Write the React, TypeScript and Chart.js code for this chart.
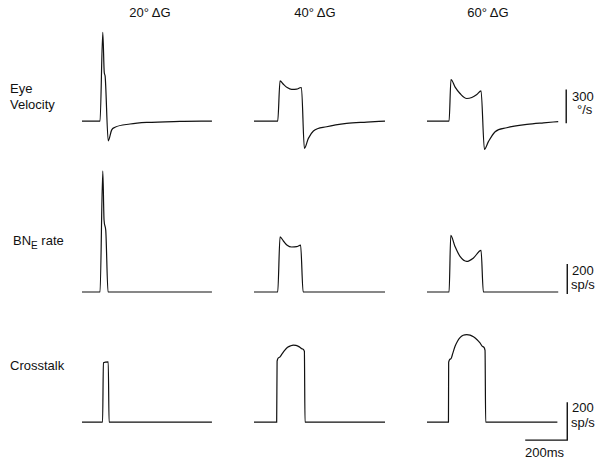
import React, { useEffect, useRef } from 'react';
import { Chart, registerables } from 'chart.js';

Chart.register(...registerables);

// ---------- data (time in ms from panel start, values in units) ----------
const columnTitles = ['20° ΔG', '40° ΔG', '60° ΔG'];

// Eye velocity (°/s)
const eye20T = [0, 86, 99, 106, 110, 125, 141, 157, 229, 308, 467, 619];
const eye20V = [0, 0, 785, 430, 400, -175, -80, -55, -26, -12, -3, 0];
const eye40T = [0, 113, 124, 140, 158, 179, 203, 219, 226, 240, 259, 283, 346, 441, 537, 624];
const eye40V = [0, 0, 356, 326, 297, 280, 282, 295, 297, -241, -153, -88, -50, -20, -9, 0];
const eye60T = [0, 105, 114, 133, 157, 189, 213, 237, 257, 273, 292, 324, 379, 475, 554, 624];
const eye60V = [0, 0, 368, 303, 244, 200, 209, 235, 268, -250, -182, -94, -59, -29, -15, -5];

// BN_E rate (sp/s)
const bn20T = [0, 86, 99, 105, 113, 124, 619];
const bn20V = [0, 0, 807, 480, 413, 0, 0];
const bn40T = [0, 113, 124, 140, 158, 179, 203, 222, 234, 624];
const bn40V = [0, 0, 367, 340, 312, 300, 302, 312, 0, 0];
const bn60T = [0, 105, 113, 133, 157, 189, 221, 257, 268, 624];
const bn60V = [0, 0, 377, 304, 237, 204, 227, 277, 0, 0];

// Crosstalk (sp/s)
const ct20T = [0, 98, 102, 125, 129, 619];
const ct20V = [0, 0, 314, 319, 0, 0];
const ct40T = [0, 108, 110, 120, 132, 145, 160, 175, 187, 200, 216, 230, 240, 243, 624];
const ct40V = [0, 0, 323, 342, 358, 378, 396, 404, 407, 406, 398, 387, 375, 0, 0];
const ct60T = [0, 102, 103, 113, 123, 133, 145, 157, 172, 189, 205, 221, 237, 252, 265, 276, 279, 620];
const ct60V = [0, 0, 317, 335, 365, 400, 428, 447, 459, 463, 460, 451, 437, 419, 399, 380, 0, 0];

// Scale bars (300 °/s, 200 sp/s, 200 sp/s + 200 ms)
const eyeBarT = [662, 662];
const eyeBarV = [-20, 280];
const bnBarT = [667, 667];
const bnBarV = [-13, 187];
const ctBarT = [467, 667, 667];
const ctBarV = [-95, -95, 105];

// ---------- layout ----------
const PX_PER_MS = 42 / 200;
const PAD = 4;
const FONT = '"Liberation Sans", Arial, Helvetica, sans-serif';
const colX = [82, 254, 427];
const rows = [
  { base: 121, perPx: 300 / 34, yMin: -300, yMax: 850 },
  { base: 292, perPx: 200 / 30, yMin: -60, yMax: 880 },
  { base: 423, perPx: 200 / 38, yMin: -110, yMax: 540 },
];

type Series = { t: number[]; v: number[]; bar?: boolean };

function Panel(props: { x0: number; row: number; xMax: number; series: Series[] }) {
  const { x0, row, xMax, series } = props;
  const r = rows[row];
  const ref = useRef<HTMLCanvasElement>(null);
  const w = Math.round(xMax * PX_PER_MS) + 2 * PAD;
  const h = Math.round((r.yMax - r.yMin) / r.perPx) + 2 * PAD;
  const top = Math.round(r.base - r.yMax / r.perPx) - PAD;
  const left = x0 - PAD;
  useEffect(() => {
    const chart = new Chart(ref.current as HTMLCanvasElement, {
      type: 'line',
      data: {
        datasets: series.map((s) => ({
          data: s.t.map((t, i) => ({ x: t, y: s.v[i] })),
          borderColor: '#111',
          borderWidth: s.bar ? 1.4 : 1.2,
          pointRadius: 0,
          fill: false,
          cubicInterpolationMode: s.bar ? 'default' : 'monotone',
          tension: s.bar ? 0 : 0.4,
        })) as any,
      },
      options: {
        responsive: false,
        animation: false,
        events: [],
        layout: { padding: PAD },
        plugins: { legend: { display: false }, tooltip: { enabled: false } },
        scales: {
          x: { type: 'linear', display: false, min: 0, max: xMax },
          y: { type: 'linear', display: false, min: r.yMin, max: r.yMax },
        },
      },
    });
    return () => chart.destroy();
  }, []);
  return (
    <canvas
      ref={ref}
      width={w}
      height={h}
      style={{ position: 'absolute', left, top, width: w, height: h }}
    />
  );
}

function Label(props: { x: number; y: number; children: React.ReactNode; w?: number; center?: boolean }) {
  const { x, y, children, w, center } = props;
  return (
    <div
      style={{
        position: 'absolute',
        left: center ? x - (w || 80) / 2 : x,
        top: y,
        width: w,
        textAlign: center ? 'center' : 'left',
        fontFamily: FONT,
        fontSize: 13,
        lineHeight: '15px',
        color: '#111',
        whiteSpace: 'nowrap',
      }}
    >
      {children}
    </div>
  );
}

export default function App() {
  const XMAX = 624;
  const XMAX3 = 680;
  return (
    <div style={{ position: 'absolute', left: 0, top: 0, width: 597, height: 461, background: '#fff', overflow: 'hidden' }}>
      <Label x={150} y={5} w={80} center>{columnTitles[0]}</Label>
      <Label x={315} y={5} w={80} center>{columnTitles[1]}</Label>
      <Label x={488} y={5} w={80} center>{columnTitles[2]}</Label>

      <Label x={10} y={81}>Eye</Label>
      <Label x={10} y={97}>Velocity</Label>
      <Label x={13} y={233}>
        BN<sub style={{ fontSize: 10, verticalAlign: 'baseline', position: 'relative', top: 4 }}>E</sub> rate
      </Label>
      <Label x={10} y={358}>Crosstalk</Label>

      <Label x={572} y={89}>300</Label>
      <Label x={577} y={102}>°/s</Label>
      <Label x={572} y={263}>200</Label>
      <Label x={571} y={277}>sp/s</Label>
      <Label x={572} y={400}>200</Label>
      <Label x={571} y={415}>sp/s</Label>
      <Label x={525} y={445}>200ms</Label>

      <Panel x0={colX[0]} row={0} xMax={XMAX} series={[{ t: eye20T, v: eye20V }]} />
      <Panel x0={colX[1]} row={0} xMax={XMAX} series={[{ t: eye40T, v: eye40V }]} />
      <Panel x0={colX[2]} row={0} xMax={XMAX3} series={[{ t: eye60T, v: eye60V }, { t: eyeBarT, v: eyeBarV, bar: true }]} />

      <Panel x0={colX[0]} row={1} xMax={XMAX} series={[{ t: bn20T, v: bn20V }]} />
      <Panel x0={colX[1]} row={1} xMax={XMAX} series={[{ t: bn40T, v: bn40V }]} />
      <Panel x0={colX[2]} row={1} xMax={XMAX3} series={[{ t: bn60T, v: bn60V }, { t: bnBarT, v: bnBarV, bar: true }]} />

      <Panel x0={colX[0]} row={2} xMax={XMAX} series={[{ t: ct20T, v: ct20V }]} />
      <Panel x0={colX[1]} row={2} xMax={XMAX} series={[{ t: ct40T, v: ct40V }]} />
      <Panel x0={colX[2]} row={2} xMax={XMAX3} series={[{ t: ct60T, v: ct60V }, { t: ctBarT, v: ctBarV, bar: true }]} />
    </div>
  );
}
